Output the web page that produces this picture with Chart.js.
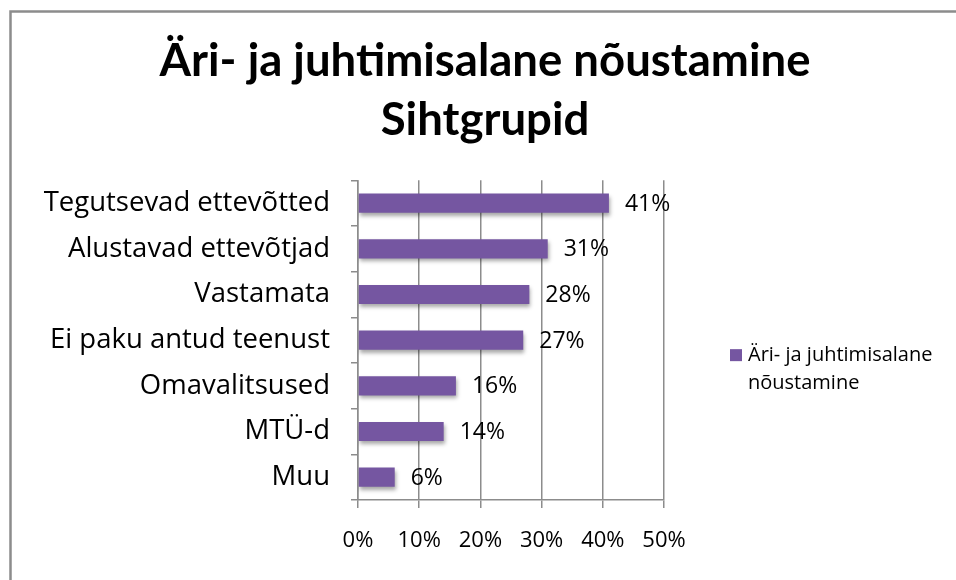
<!DOCTYPE html>
<html>
<head>
<meta charset="utf-8">
<script src="https://cdn.jsdelivr.net/npm/chart.js@4/dist/chart.umd.min.js"></script>
<style>
html,body{margin:0;padding:0;background:#fff;}
#wrap{width:956px;height:580px;position:relative;}
</style>
</head>
<body>
<div id="wrap"><canvas id="c" width="956" height="580"></canvas></div>
<script>
const titleLines = ['Äri- ja juhtimisalane nõustamine', 'Sihtgrupid'];
const categories = ['Tegutsevad ettevõtted', 'Alustavad ettevõtjad', 'Vastamata', 'Ei paku antud teenust', 'Omavalitsused', 'MTÜ-d', 'Muu'];
const values = [41, 31, 28, 27, 16, 14, 6];
const seriesName = 'Äri- ja juhtimisalane nõustamine';
const legendLines = ['Äri- ja juhtimisalane', 'nõustamine'];
const xTickValues = [0, 10, 20, 30, 40, 50];

const FONT = '"Open Sans", sans-serif';
const TITLE_FONT = 'Lato, "Open Sans", sans-serif';
const BAR = '#7556a1';
const GRID = '#8c8c8c';

const borderPlugin = {
  id: 'frame',
  afterDraw(chart) {
    const c = chart.ctx;
    c.save();
    c.strokeStyle = GRID;
    c.lineWidth = 2.5;
    c.strokeRect(10.5, 11.5, 2000, 2000);
    c.restore();
  }
};

const shadowPlugin = {
  id: 'barShadow',
  beforeDatasetsDraw(chart) {
    const c = chart.ctx;
    c.save();
    c.shadowColor = 'rgba(0,0,0,0.35)';
    c.shadowBlur = 4;
    c.shadowOffsetX = 1;
    c.shadowOffsetY = 3;
  },
  afterDatasetsDraw(chart) {
    chart.ctx.restore();
  }
};

const labelPlugin = {
  id: 'valueLabels',
  afterDatasetsDraw(chart) {
    const c = chart.ctx;
    c.save();
    c.font = '23px ' + FONT;
    c.fillStyle = '#000';
    c.textAlign = 'left';
    c.textBaseline = 'middle';
    chart.getDatasetMeta(0).data.forEach((el, i) => {
      c.fillText(Math.round(values[i]) + '%', el.x + 16, el.y + 1);
    });
    c.restore();
  }
};

const legendPlugin = {
  id: 'wrapLegend',
  afterDraw(chart) {
    const c = chart.ctx;
    const a = chart.chartArea;
    const x = a.right + 66;
    const y = (a.top + a.bottom) / 2 + 15;
    c.save();
    c.fillStyle = BAR;
    c.fillRect(x, y - 6, 12, 12);
    c.fillStyle = '#000';
    c.font = '20px ' + FONT;
    c.textBaseline = 'middle';
    c.textAlign = 'left';
    legendLines.forEach((t, i) => c.fillText(t, x + 18, y + i * 28));
    c.restore();
  }
};

new Chart(document.getElementById('c'), {
  type: 'bar',
  data: {
    labels: categories,
    datasets: [{
      label: seriesName,
      data: values,
      backgroundColor: BAR,
      borderWidth: 0,
      barPercentage: 0.42,
      categoryPercentage: 1
    }]
  },
  options: {
    indexAxis: 'y',
    responsive: false,
    animation: false,
    layout: { padding: { left: 14, right: 0, top: 0, bottom: 0 } },
    plugins: {
      legend: { display: false },
      tooltip: { enabled: false },
      title: {
        display: true,
        text: titleLines,
        color: '#000',
        font: { family: TITLE_FONT, size: 45.5, weight: 'bold', lineHeight: 1.3 },
        padding: { top: 32, bottom: 30 }
      }
    },
    scales: {
      x: {
        min: 0, max: 50,
        afterBuildTicks(s) { s.ticks = xTickValues.map(v => ({ value: v })); },
        ticks: { callback: v => v + '%', color: '#000', font: { family: FONT, size: 22 }, padding: 20, maxRotation: 0 },
        grid: { color: GRID, lineWidth: 1.5, tickLength: 8 },
        border: { color: GRID, width: 1.5 },
        afterFit(s) { s.height = 80; }
      },
      y: {
        grid: { drawOnChartArea: false, offset: true, tickLength: 7, color: GRID, lineWidth: 1.5 },
        border: { color: GRID, width: 1.5 },
        ticks: { color: '#000', font: { family: FONT, size: 27.5 }, padding: 21 },
        afterFit(s) { s.width = 344; }
      },
      yr: {
        type: 'category',
        position: 'right',
        display: true,
        grid: { display: false },
        border: { display: false },
        ticks: { display: false },
        afterFit(s) { s.width = 292; }
      }
    }
  },
  plugins: [shadowPlugin, labelPlugin, legendPlugin, borderPlugin]
});
</script>
</body>
</html>
